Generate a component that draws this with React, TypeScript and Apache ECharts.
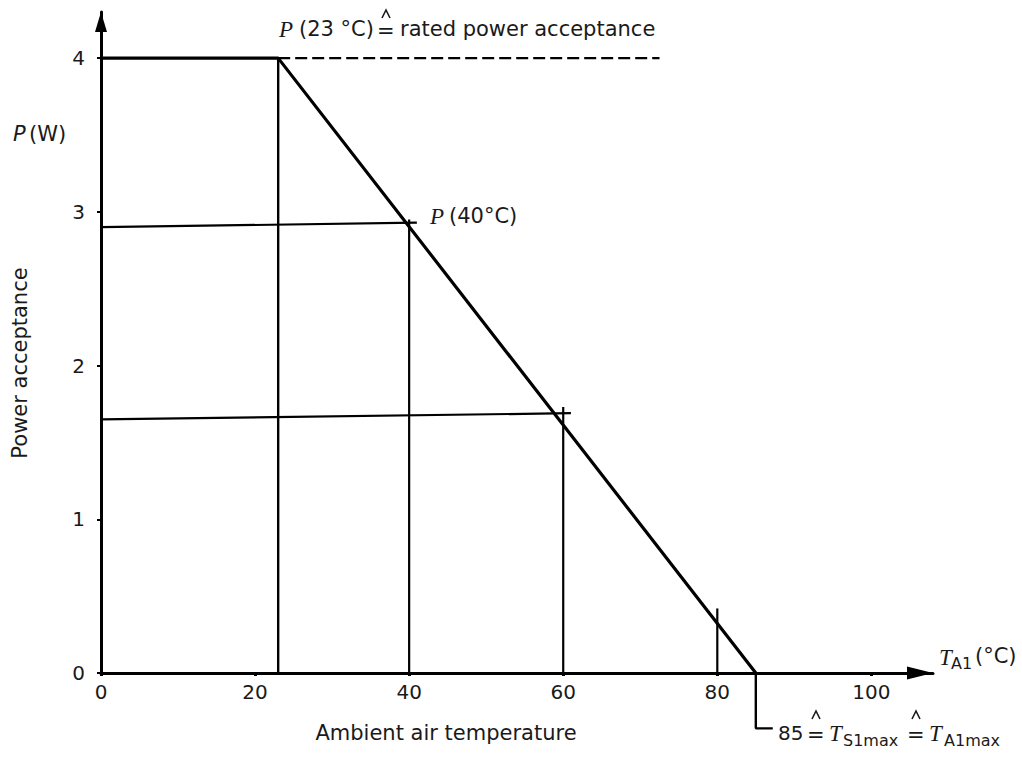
import React, { useEffect, useRef } from "react";
import * as echarts from "echarts";

// ---- data ----
const xTicks = [0, 20, 40, 60, 80, 100];
const yTicks = [0, 1, 2, 3, 4];
const deratingCurve = [[0, 4], [23, 4], [85, 0]];
const ratedExtension = [[23, 4], [72.5, 4]];
const guide23V = [[23, 0], [23, 4]];
const guide40H = [[0, 2.9], [41, 2.93]];
const guide40V = [[40, 0], [40, 2.95]];
const guide60H = [[0, 1.65], [61, 1.69]];
const guide60V = [[60, 0], [60, 1.73]];
const guide80V = [[80, 0], [80, 0.42]];
const tMaxLeader = [[85, 0], [85, -0.36], [87.2, -0.36]];

const SANS = '"DejaVu Sans", sans-serif';
const SERIF = '"Liberation Serif", serif';

function txt(x: number, y: number, text: string, font: string, size: number, italic = false, align = "left") {
  return {
    type: "text",
    x,
    y,
    style: {
      text,
      fill: "#1a1a1a",
      fontFamily: font,
      fontSize: size,
      fontStyle: italic ? "italic" : "normal",
      align,
      textAlign: align,
      verticalAlign: "middle",
      textVerticalAlign: "middle",
    },
  };
}

// small "^" hat drawn as a stroke above an equals sign
function hat(cx: number, cy: number) {
  return {
    type: "polyline",
    silent: true,
    shape: { points: [[cx - 4, cy + 4], [cx, cy - 4], [cx + 4, cy + 4]] },
    style: { stroke: "#1a1a1a", lineWidth: 1.6, fill: null },
  };
}

function lineSeries(data: number[][], width: number, dashed = false, clip = true) {
  return {
    type: "line",
    data,
    symbol: "none",
    clip,
    silent: true,
    lineStyle: { color: "#000", width, type: dashed ? [12, 5] : "solid", cap: "butt" },
  };
}

export default function App() {
  const ref = useRef<HTMLDivElement>(null);
  useEffect(() => {
    if (!ref.current) return;
    const chart = echarts.init(ref.current, null, { renderer: "svg" });
    chart.setOption({
      animation: false,
      backgroundColor: "#fff",
      grid: { left: 101, top: 12, right: 89, bottom: 99 },
      xAxis: {
        type: "value",
        min: 0,
        max: 108,
        splitLine: { show: false },
        axisLine: {
          show: true,
          onZero: false,
          lineStyle: { color: "#000", width: 3 },
          symbol: ["none", "triangle"],
          symbolSize: [13, 26],
          symbolOffset: [0, -13],
        },
        axisTick: { show: true, customValues: xTicks, length: 3, lineStyle: { color: "#000", width: 3 } },
        axisLabel: {
          customValues: xTicks,
          color: "#1a1a1a",
          fontFamily: SANS,
          fontSize: 20,
          margin: 9,
        },
      },
      yAxis: {
        type: "value",
        min: 0,
        max: 4.3,
        splitLine: { show: false },
        axisLine: {
          show: true,
          onZero: false,
          lineStyle: { color: "#000", width: 3 },
          symbol: ["none", "triangle"],
          symbolSize: [12, 20],
          symbolOffset: [0, -10],
        },
        axisTick: { show: true, customValues: yTicks, length: 4, lineStyle: { color: "#000", width: 2 } },
        axisLabel: {
          customValues: yTicks,
          color: "#1a1a1a",
          fontFamily: SANS,
          fontSize: 20,
          margin: 16,
        },
      },
      series: [
        lineSeries(guide23V, 2.4),
        lineSeries(guide40H, 2.2),
        lineSeries(guide40V, 2.2),
        lineSeries(guide60H, 2.2),
        lineSeries(guide60V, 2.2),
        lineSeries(guide80V, 2.2),
        lineSeries(ratedExtension, 2.4, true),
        lineSeries(tMaxLeader, 2.4, false, false),
        lineSeries(deratingCurve, 3.2),
      ],
      graphic: [
        // top label
        txt(279, 29, "P", SERIF, 23, true),
        txt(299, 29, "(23 °C)", SANS, 21),
        txt(377, 31, "=", SANS, 21),
        hat(386, 14),
        txt(400, 29, "rated power acceptance", SANS, 21),
        // P(40°C)
        txt(430, 216, "P", SERIF, 23, true),
        txt(449, 216, "(40°C)", SANS, 21),
        // y axis name
        txt(13, 134, "P", SANS, 21, true),
        txt(29, 134, "(W)", SANS, 21),
        {
          type: "text",
          x: 20,
          y: 363,
          rotation: Math.PI / 2,
          style: {
            text: "Power acceptance",
            fill: "#1a1a1a",
            fontFamily: SANS,
            fontSize: 21,
            align: "center",
            textAlign: "center",
            verticalAlign: "middle",
            textVerticalAlign: "middle",
          },
        },
        // x axis name
        txt(446, 733, "Ambient air temperature", SANS, 21, false, "center"),
        txt(939, 657, "T", SERIF, 23, true),
        txt(951, 663, "A1", SANS, 16),
        txt(975, 656, "(°C)", SANS, 21),
        // T max label
        txt(778, 733, "85", SANS, 20),
        txt(807, 735, "=", SANS, 21),
        hat(816, 715),
        txt(829, 733, "T", SERIF, 23, true),
        txt(843, 740, "S1max", SANS, 16),
        txt(907, 735, "=", SANS, 21),
        hat(916, 715),
        txt(929, 733, "T", SERIF, 23, true),
        txt(944, 740, "A1max", SANS, 16),
      ],
    });
    return () => chart.dispose();
  }, []);
  return (
    <div
      ref={ref}
      style={{ position: "absolute", left: 0, top: 0, width: 1022, height: 772, background: "#fff" }}
    />
  );
}
